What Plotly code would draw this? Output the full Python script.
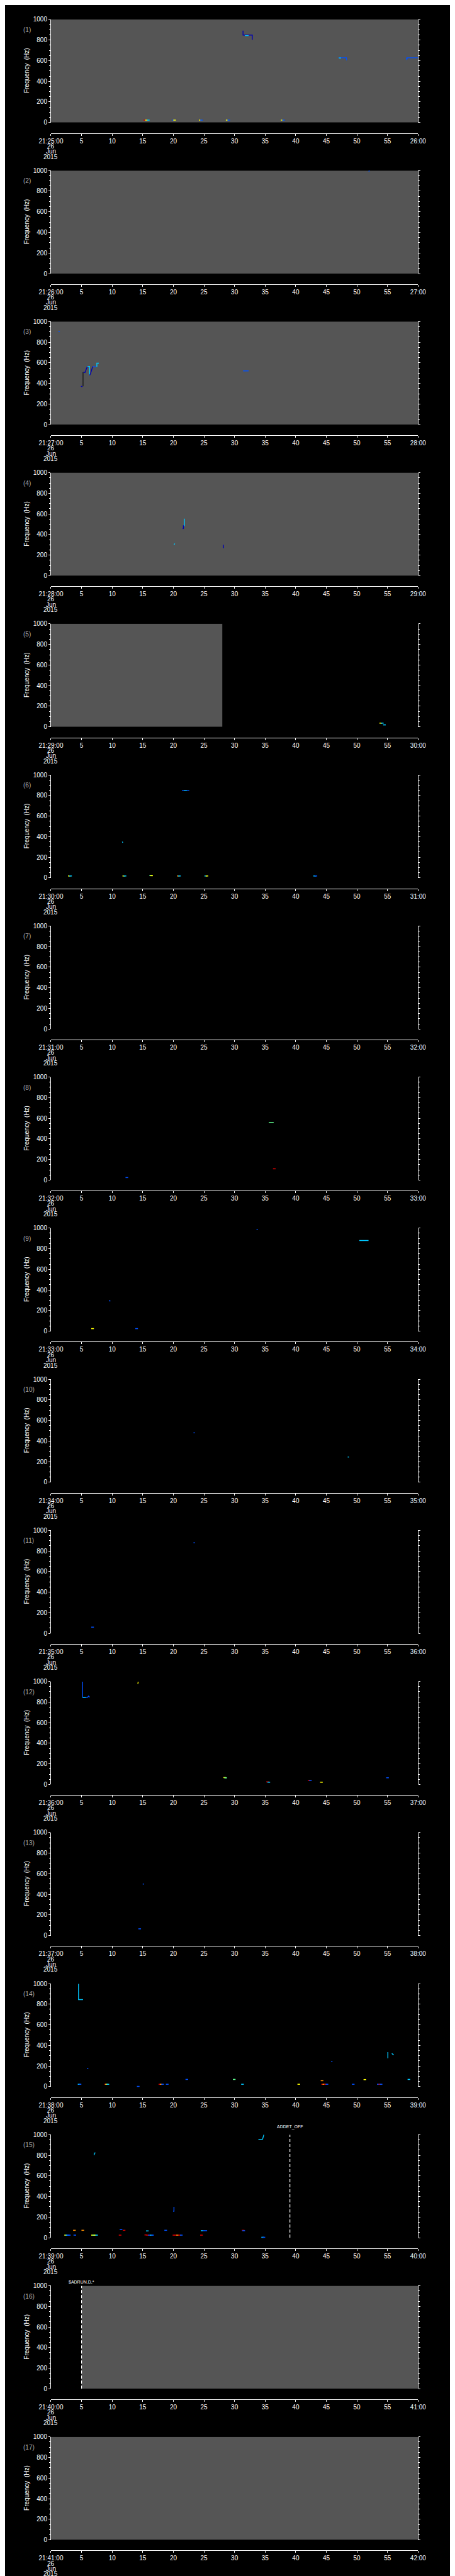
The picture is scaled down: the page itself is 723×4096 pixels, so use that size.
import plotly.graph_objects as go

# ---------------- geometry of the reference (px) ----------------
S = 0.705
W_REF, H_REF = 1024, 5802
W, H = 723, 4096
PLOT_L, PLOT_R = 80.0, 944.5
TOP0, PERIOD, PLOT_H, AXIS_OFF = 24.0, 341.3, 232.8, 256.7

# ---------------- data ----------------
panel_numbers = list(range(1, 18))
panel_minutes = list(range(25, 42))
tick_seconds = [0, 5, 10, 15, 20, 25, 30, 35, 40, 45, 50, 55, 60]
freq_ticks = [0, 200, 400, 600, 800, 1000]
date_lines = ["26", "Jun", "2015"]

# data-coverage (grey) intervals in seconds, None = no data (black)
gray_start = [0, 0, 0, 0, 0, None, None, None, None, None, None, None, None, None, None, 5, 0]
gray_end = [60, 60, 60, 60, 28, None, None, None, None, None, None, None, None, None, None, 60, 60]

# event markers
event_panel = [15, 16]
event_time = [39.05, 5.0]
event_label = ["ADDET_OFF", "$ADRUN,D,*"]

DB, BL, CY, GR, YE, OR, RD, DK = "#0000b4", "#0050ff", "#00c8ff", "#60ff90", "#ffff00", "#ff9000", "#d00000", "#1a1a1a"

# tracks: (seconds, Hz, colour)
p1_tracks = [([31.39, 31.39, 32.9, 32.9], [891, 848, 848, 802], DB),
             ([31.7, 32.3], [843, 843], CY),
             ([47.0, 48.3, 48.3], [628, 628, 602], BL),
             ([47.05, 47.4], [626, 626], CY),
             ([58.1, 58.15, 58.25, 60.0], [630, 608, 628, 628], BL)]
p2_tracks = [([51.9, 52.1], [992, 998], BL)]
p3_tracks = [([1.2, 1.45], [904, 904], BL),
             ([4.9, 5.15], [372, 368], DB),
             ([5.24, 5.24], [372, 510], DK),
             ([5.3, 5.55, 5.78, 5.95], [510, 505, 540, 565], DB),
             ([5.95, 6.3, 6.3], [565, 565, 479], CY),
             ([6.32, 6.5, 6.69, 6.85], [479, 500, 540, 565], DB),
             ([6.85, 7.2, 7.45], [565, 560, 562], BL),
             ([7.5, 7.5, 7.82], [562, 596, 596], CY),
             ([31.4, 32.3], [522, 522], BL)]
p4_tracks = [([21.8, 21.8], [553, 480], CY),
             ([21.65, 21.65, 21.55], [490, 460, 455], DB),
             ([20.1, 20.25], [302, 312], CY),
             ([28.15, 28.2], [302, 268], DB)]
p5_tracks = []
p6_tracks = [([21.4, 22.6], [850, 850], BL), ([21.7, 22.2], [850, 850], CY),
             ([11.65, 11.75], [352, 342], CY)]
p7_tracks = []
p8_tracks = [([35.6, 36.4], [560, 560], GR)]
p9_tracks = [([33.6, 33.8], [985, 985], BL), ([50.4, 51.9], [880, 880], CY),
             ([9.5, 9.7], [300, 290], BL)]
p10_tracks = [([23.3, 23.5], [480, 480], BL), ([48.5, 48.7], [245, 245], CY)]
p11_tracks = [([23.3, 23.5], [880, 880], BL)]
p12_tracks = [([5.15, 5.15, 6.0, 6.15, 6.32], [997, 846, 846, 858, 846], BL),
              ([5.2, 5.7], [846, 846], CY),
              ([14.26, 14.2], [997, 976], YE)]
p13_tracks = [([15.0, 15.2], [500, 500], BL)]
p14_tracks = [([4.51, 4.51, 5.24], [997, 844, 844], CY),
              ([5.9, 6.1], [175, 175], BL),
              ([55.06, 55.06], [335, 275], CY),
              ([55.7, 56.0], [322, 308], CY),
              ([45.8, 46.0], [243, 243], BL)]
p15_tracks = [([7.05, 7.1, 7.28], [800, 822, 822], CY),
              ([19.97, 20.1, 20.1], [257, 257, 300], BL),
              ([33.9, 34.5, 34.6, 34.8], [951, 951, 960, 1000], CY)]
p16_tracks = []
p17_tracks = []

# short blips: seconds, Hz, colour
p1_blip_t = [15.35, 15.6, 15.9, 20.0, 20.2, 24.4, 24.6, 28.8, 29.05, 37.8, 38.0]
p1_blip_f = [23, 23, 23, 23, 23, 23, 23, 23, 23, 23, 23]
p1_blip_c = [RD, YE, CY, BL, YE, YE, BL, YE, BL, YE, BL]
p2_blip_t, p2_blip_f, p2_blip_c = [], [], []
p3_blip_t, p3_blip_f, p3_blip_c = [], [], []
p4_blip_t, p4_blip_f, p4_blip_c = [], [], []
p5_blip_t = [53.9, 54.15, 54.5]
p5_blip_f = [36, 36, 19]
p5_blip_c = [YE, CY, CY]
p6_blip_t = [3.0, 3.2, 11.9, 12.1, 16.3, 16.45, 20.8, 21.0, 25.3, 25.5, 43.1, 43.3]
p6_blip_f = [19, 19, 19, 19, 25, 22, 19, 19, 19, 19, 19, 19]
p6_blip_c = [YE, CY, YE, CY, GR, YE, OR, CY, CY, YE, CY, BL]
p7_blip_t, p7_blip_f, p7_blip_c = [], [], []
p8_blip_t = [12.4, 36.5]
p8_blip_f = [25, 110]
p8_blip_c = [BL, RD]
p9_blip_t = [6.8, 14.0]
p9_blip_f = [25, 25]
p9_blip_c = [YE, BL]
p10_blip_t, p10_blip_f, p10_blip_c = [], [], []
p11_blip_t = [6.8]
p11_blip_f = [60]
p11_blip_c = [BL]
p12_blip_t = [28.4, 28.55, 35.4, 35.6, 42.2, 42.4, 44.2, 55.0]
p12_blip_f = [67, 64, 25, 22, 40, 40, 22, 65]
p12_blip_c = [YE, GR, RD, CY, RD, BL, YE, BL]
p13_blip_t = [14.5]
p13_blip_f = [65]
p13_blip_c = [BL]
p14_blip_t = [4.6, 4.75, 8.95, 9.1, 9.3, 17.8, 18.0, 18.25, 19.0, 31.3, 40.5, 44.4, 44.6, 44.85, 45.1,
              49.4, 53.5, 53.75, 53.95, 22.2, 29.95, 51.3, 58.5, 44.3, 14.26]
p14_blip_f = [23, 23, 23, 23, 23, 23, 23, 23, 23, 23, 23, 23, 23, 23, 23,
              23, 23, 23, 23, 70, 70, 68, 70, 58, 2]
p14_blip_c = [CY, BL, RD, YE, CY, RD, OR, BL, BL, CY, YE, RD, OR, RD, BL,
              BL, BL, RD, BL, BL, GR, YE, CY, OR, BL]
p15_blip_t = [2.4, 2.6, 2.8, 3.0, 3.9, 6.8, 7.0, 7.2, 7.45, 11.3, 15.5, 15.8, 16.1, 16.4, 16.6,
              20.1, 20.4, 20.7, 21.0, 21.3, 24.6, 3.83, 5.2, 11.45, 11.95, 15.75, 18.75, 24.7, 25.0,
              25.3, 31.4, 31.5, 34.6, 34.8]
p15_blip_f = [25, 25, 25, 25, 25, 25, 25, 25, 25, 25, 27, 25, 25, 25, 25,
              25, 25, 25, 25, 25, 25, 72, 72, 80, 72, 66, 72, 68, 68,
              68, 72, 68, 4, 4]
p15_blip_c = [YE, CY, BL, BL, BL, YE, GR, YE, CY, RD, RD, RD, BL, CY, BL,
              RD, RD, OR, RD, BL, RD, OR, OR, BL, RD, CY, BL, CY, BL,
              BL, RD, BL, CY, BL]
p16_blip_t, p16_blip_f, p16_blip_c = [], [], []
p17_blip_t, p17_blip_f, p17_blip_c = [], [], []

panel_tracks = [p1_tracks, p2_tracks, p3_tracks, p4_tracks, p5_tracks, p6_tracks, p7_tracks, p8_tracks,
                p9_tracks, p10_tracks, p11_tracks, p12_tracks, p13_tracks, p14_tracks, p15_tracks,
                p16_tracks, p17_tracks]
panel_blips = [(p1_blip_t, p1_blip_f, p1_blip_c), (p2_blip_t, p2_blip_f, p2_blip_c),
               (p3_blip_t, p3_blip_f, p3_blip_c), (p4_blip_t, p4_blip_f, p4_blip_c),
               (p5_blip_t, p5_blip_f, p5_blip_c), (p6_blip_t, p6_blip_f, p6_blip_c),
               (p7_blip_t, p7_blip_f, p7_blip_c), (p8_blip_t, p8_blip_f, p8_blip_c),
               (p9_blip_t, p9_blip_f, p9_blip_c), (p10_blip_t, p10_blip_f, p10_blip_c),
               (p11_blip_t, p11_blip_f, p11_blip_c), (p12_blip_t, p12_blip_f, p12_blip_c),
               (p13_blip_t, p13_blip_f, p13_blip_c), (p14_blip_t, p14_blip_f, p14_blip_c),
               (p15_blip_t, p15_blip_f, p15_blip_c), (p16_blip_t, p16_blip_f, p16_blip_c),
               (p17_blip_t, p17_blip_f, p17_blip_c)]

# ---------------- figure ----------------
FONT = "Liberation Sans"
GRAY_BG = "rgb(85,85,85)"


def py(yref):
    return 1 - yref / H_REF


def px(xref):
    return xref / W_REF


fig = go.Figure()
layout = {}
annotations = []
shapes = []

for k, (num, minute) in enumerate(zip(panel_numbers, panel_minutes)):
    top = TOP0 + k * PERIOD
    bot = top + PLOT_H
    sfx = "" if k == 0 else str(k + 1)
    xa, ya = "x" + sfx, "y" + sfx
    xkey, ykey = "xaxis" + sfx, "yaxis" + sfx

    ticktext = [f"21:{minute:02d}:00"] + [str(s) for s in tick_seconds[1:-1]] + [f"{minute + 1:02d}:00"]
    layout[xkey] = dict(domain=[px(PLOT_L), px(PLOT_R)], anchor="free", position=py(top + AXIS_OFF),
                        range=[0, 60], tickmode="array", tickvals=tick_seconds, ticktext=ticktext,
                        ticks="outside", ticklen=3, tickwidth=1, tickcolor="white",
                        showline=True, linecolor="white", linewidth=1, showgrid=False, zeroline=False,
                        tickfont=dict(family=FONT, size=10, color="white"), fixedrange=True)
    layout[ykey] = dict(domain=[py(bot), py(top)], anchor=xa, range=[0, 1000], tickmode="array",
                        tickvals=freq_ticks, ticks="outside", ticklen=3, tickwidth=1, tickcolor="white",
                        showline=True, mirror="ticks", linecolor="white", linewidth=1,
                        showgrid=False, zeroline=False,
                        minor=dict(dtick=50, ticklen=1.5, tickcolor="white", ticks="outside", showgrid=False),
                        tickfont=dict(family=FONT, size=10, color="white"), fixedrange=True)

    # invisible trace so that every subplot is drawn
    fig.add_trace(go.Scatter(x=[None], y=[None], mode="markers", xaxis=xa, yaxis=ya,
                             showlegend=False, hoverinfo="skip"))

    # grey data-coverage
    if gray_start[k] is not None:
        shapes.append(dict(type="rect", xref=xa, yref=ya, x0=gray_start[k], x1=gray_end[k], y0=0, y1=1000,
                           fillcolor=GRAY_BG, line=dict(width=0), layer="below"))

    for tt, ff, cc in panel_tracks[k]:
        fig.add_trace(go.Scatter(x=tt, y=ff, mode="lines", line=dict(color=cc, width=1.4),
                                 xaxis=xa, yaxis=ya, showlegend=False, hoverinfo="skip"))
    bt, bf, bc = panel_blips[k]
    if bt:
        fig.add_trace(go.Scatter(x=bt, y=bf, mode="markers",
                                 marker=dict(symbol="line-ew", size=3, line=dict(width=1.6, color=bc)),
                                 xaxis=xa, yaxis=ya, showlegend=False, hoverinfo="skip", cliponaxis=False))

    # date lines under first tick
    for j, txt in enumerate(date_lines):
        annotations.append(dict(text=txt, xref=xa, yref="paper", x=0, y=py(top + 286 + 12 * j),
                                xanchor="center", yanchor="middle", showarrow=False,
                                font=dict(family=FONT, size=10, color="white")))
    # panel number
    annotations.append(dict(text=f"({num})", xref="paper", yref="paper", x=px(12), y=py(top + 23.5),
                            xanchor="left", yanchor="middle", showarrow=False,
                            font=dict(family=FONT, size=10, color="rgb(170,170,170)")))
    # y title
    annotations.append(dict(text="Frequency  (Hz)", xref="paper", yref="paper", x=px(23), y=py(top + 116),
                            xanchor="center", yanchor="middle", showarrow=False, textangle=-90,
                            font=dict(family=FONT, size=10, color="white")))

# events
for pn, et, el in zip(event_panel, event_time, event_label):
    k = pn - 1
    sfx = "" if k == 0 else str(k + 1)
    xa, ya = "x" + sfx, "y" + sfx
    top = TOP0 + k * PERIOD
    fig.add_trace(go.Scatter(x=[et, et], y=[0, 1000], mode="lines",
                             line=dict(color="white", width=1.2, dash="5px,3px"),
                             xaxis=xa, yaxis=ya, showlegend=False, hoverinfo="skip"))
    off = 18 if pn == 15 else 8.5
    annotations.append(dict(text=el, xref=xa, yref="paper", x=et, y=py(top - off), xanchor="center",
                            yanchor="middle", showarrow=False, font=dict(family=FONT, size=7, color="white")))

fig.update_layout(width=W, height=H, margin=dict(l=0, r=0, t=0, b=0), paper_bgcolor="black",
                  plot_bgcolor="black", showlegend=False, annotations=annotations, shapes=shapes, **layout)
fig.write_html("out.html")
